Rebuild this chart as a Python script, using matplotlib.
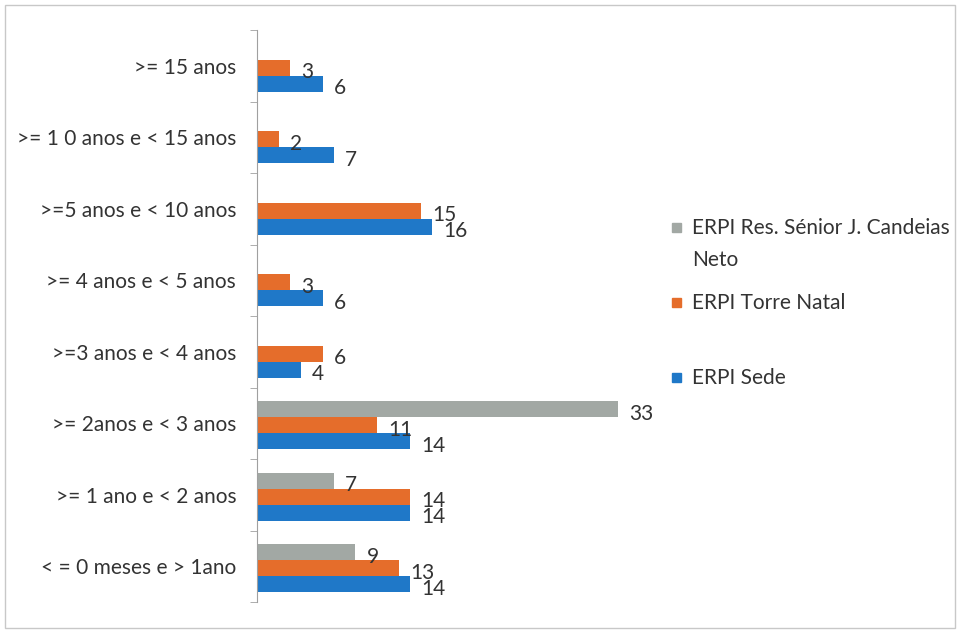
import numpy as np
import matplotlib
matplotlib.use("Agg")
import matplotlib.pyplot as plt
from matplotlib.patches import Rectangle

plt.rcParams['font.family'] = ['Lato', 'DejaVu Sans']

# Length-of-stay classes (bottom to top)
categories = [
    "< = 0 meses e > 1ano",
    ">= 1 ano e < 2 anos",
    ">= 2anos e < 3 anos",
    ">=3 anos e < 4 anos",
    ">= 4 anos e < 5 anos",
    ">=5 anos e < 10 anos",
    ">= 1 0 anos e < 15 anos",
    ">= 15 anos",
]

sede = [14, 14, 14, 4, 6, 16, 7, 6]
torre_natal = [13, 14, 11, 6, 3, 15, 2, 3]
candeias = [9, 7, 33, None, None, None, None, None]

series_names = ["ERPI Res. Sénior J. Candeias\nNeto", "ERPI Torre Natal", "ERPI Sede"]
series_values = [candeias, torre_natal, sede]
series_colors = ["#a2a8a4", "#e56d2b", "#1f78c8"]

text_color = "#333333"
fs = 15

fig = plt.figure(figsize=(9.6, 6.3), dpi=100)
fig.patch.set_facecolor("white")
ax = fig.add_axes([257 / 960, 1 - 602 / 630, 383 / 960, 572 / 630])

bar_h = 0.224
shift = -0.03
offsets = [bar_h, 0.0, -bar_h]  # gray on top, orange middle, blue bottom

y = np.arange(len(categories))
for vals, off, col in zip(series_values, offsets, series_colors):
    for yi, v in zip(y, vals):
        if v is None:
            continue
        ax.barh(yi + off + shift, v, height=bar_h, color=col, edgecolor="none")
        ax.annotate(str(v), xy=(v, yi + off + shift), xytext=(8, -3),
                    textcoords="offset points", ha="left", va="center",
                    fontsize=fs, color=text_color)

ax.set_xlim(0, 35)
ax.set_ylim(-0.5, len(categories) - 0.5)
ax.set_yticks(y)
ax.set_yticklabels(categories, fontsize=fs, color=text_color)
ax.set_yticks(np.arange(len(categories) + 1) - 0.5, minor=True)
ax.tick_params(axis="y", which="major", length=0, pad=15)
ax.tick_params(axis="y", which="minor", length=5, color="#a0a0a0", direction="out")
ax.set_xticks([])
for side in ["top", "right", "bottom"]:
    ax.spines[side].set_visible(False)
ax.spines["left"].set_color("#a0a0a0")
ax.patch.set_alpha(0)

# Legend drawn beside the bars
legend_y = [228, 303, 378]
for name, col, ly in zip(series_names, series_colors, legend_y):
    fig.patches.append(Rectangle((672 / 960, 1 - (ly + 4) / 630), 9 / 960, 9 / 630,
                                 transform=fig.transFigure, color=col))
    fig.text(692 / 960, 1 - (ly - 10) / 630 if "\n" in name else 1 - ly / 630, name,
             ha="left", va="top" if "\n" in name else "center",
             fontsize=fs, color=text_color, linespacing=1.75,
             transform=fig.transFigure)

# Outer chart frame
fig.patches.append(Rectangle((5 / 960, 2 / 630), 950 / 960, 623 / 630,
                             transform=fig.transFigure, fill=False,
                             edgecolor="#c8c8c8", lw=1))

fig.savefig("out.png", dpi=100)
